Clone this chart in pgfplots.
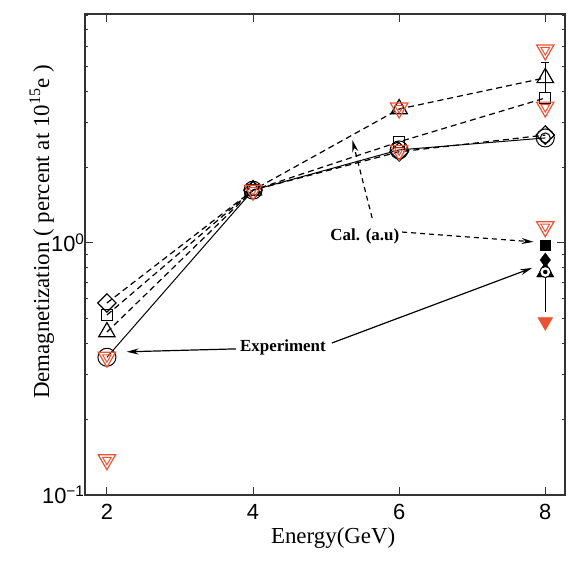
\documentclass[border=0pt]{standalone}
\usepackage{pgfplots}
\pgfplotsset{compat=1.18}
\usepackage{fontspec}
\setmainfont{Liberation Serif}
\setsansfont{Liberation Sans}
\usetikzlibrary{arrows.meta}
\definecolor{calred}{RGB}{236,82,52}

\begin{document}
\begin{tikzpicture}
\begin{axis}[
  name=ax,
  scale only axis,
  width=480bp, height=481bp,
  ymode=log,
  xmin=1.7, xmax=8.27,
  ymin=0.1, ymax=8.1,
  xtick={2,4,6,8},
  ytick={0.1,1},
  yticklabels={10\textsuperscript{−1},10\textsuperscript{0}},
  minor ytick={0.2,0.3,0.4,0.5,0.6,0.7,0.8,0.9,2,3,4,5,6,7,8},
  tick align=inside,
  major tick length=8bp, minor tick length=3bp,
  axis line style={line width=1.2bp, black!80},
  every tick/.style={line width=1bp, black!80},
  /pgf/number format/assume math mode=true,
  tick label style={font=\fontsize{22}{25}\sffamily},
  xticklabel style={yshift=-6bp},
  yticklabel style={xshift=3bp},
  label style={font=\fontsize{23}{27}\selectfont},
  xlabel={Energy(GeV)},
  ylabel={Demagnetization ( percent at 10\textsuperscript{15}e )},
  xlabel style={at={(axis description cs:0.517,-0.09)}, anchor=center},
  ylabel style={at={(axis description cs:-0.09,0.547)}, anchor=center},
  clip=false,
]
% open diamond, dashed
\addplot[black, line width=1.2bp, dash pattern=on 6bp off 4bp, mark=square, mark size=6.5bp, mark options={rotate=45, solid}]
  coordinates {(2,0.578) (4,1.62) (6,2.30) (8,2.68)};
% open square, dashed
\addplot[black, line width=1.2bp, dash pattern=on 6bp off 4bp, mark=square, mark size=5.5bp, mark options={solid}]
  coordinates {(2,0.518) (4,1.62) (6,2.52) (8,3.76)};
% open triangle, dashed
\addplot[black, line width=1.2bp, dash pattern=on 6bp off 4bp, mark=triangle, mark size=9.5bp, mark options={solid}]
  coordinates {(2,0.443) (4,1.62) (6,3.40) (8,4.52)};
% error bar at 8 GeV
\addplot[black, line width=1bp, mark=-, mark size=4bp]
  coordinates {(8,3.94) (8,5.18)};
% open circle, solid
\addplot[black, line width=1bp, mark=o, mark size=9bp]
  coordinates {(2,0.352) (4,1.62) (6,2.34) (8,2.61)};
\addplot[black, line width=1bp, only marks, mark=o, mark size=5bp]
  coordinates {(8,2.61)};
% red open inverted triangles
\addplot[calred, line width=1.2bp, only marks, mark=triangle, mark size=10bp, mark options={rotate=180}]
  coordinates {(2,0.138) (2,0.352) (4,1.62) (6,3.43) (6,2.33) (8,5.83) (8,3.46) (8,1.16)};
\addplot[calred, line width=1bp, only marks, mark=triangle, mark size=5bp, mark options={rotate=180}]
  coordinates {(2,0.138) (2,0.352) (4,1.62) (6,3.43) (6,2.33) (8,5.83) (8,3.46) (8,1.16)};
% experiment at 8 GeV
\addplot[black, line width=1bp] coordinates {(8,0.767) (8,0.53)};
\addplot[black, only marks, mark=square*, mark size=5bp] coordinates {(8,0.98)};
\addplot[black, only marks, mark=triangle*, mark size=10bp] coordinates {(8,0.767)};
\addplot[black, only marks, mark=diamond*, mark size=7bp] coordinates {(8,0.856)};
\addplot[black, line width=1bp, only marks, mark=*, mark size=5.5bp, mark options={fill=white}] coordinates {(8,0.767)};
\addplot[black, only marks, mark=*, mark size=2bp] coordinates {(8,0.767)};
\addplot[calred, only marks, mark=triangle*, mark size=8.5bp, mark options={rotate=180}] coordinates {(8,0.486)};
% annotations
\node[font=\fontsize{17}{20}\selectfont\bfseries] at (axis cs:5.53,1.066) {Cal. (a.u)};
\draw[black, line width=1.2bp, dash pattern=on 5bp off 4bp, -{Stealth[length=12bp,width=6bp]}] (axis cs:5.63,1.256) -- (axis cs:5.36,2.56);
\draw[black, line width=1.2bp, dash pattern=on 5bp off 4bp, -{Stealth[length=12bp,width=6bp]}] (axis cs:6.04,1.105) -- (axis cs:7.84,1.01);
\node[font=\fontsize{17}{20}\selectfont\bfseries] at (axis cs:4.41,0.386) {Experiment};
\draw[black, line width=1.2bp, -{Stealth[length=12bp,width=6bp]}] (axis cs:3.77,0.38) -- (axis cs:2.27,0.37);
\draw[black, line width=1.2bp, -{Stealth[length=12bp,width=6bp]}] (axis cs:5.08,0.401) -- (axis cs:7.82,0.796);
\end{axis}
\pgfresetboundingbox
\path ([xshift=-85bp,yshift=-67bp]ax.south west) rectangle ([xshift=3bp,yshift=14bp]ax.north east);
\end{tikzpicture}
\end{document}
